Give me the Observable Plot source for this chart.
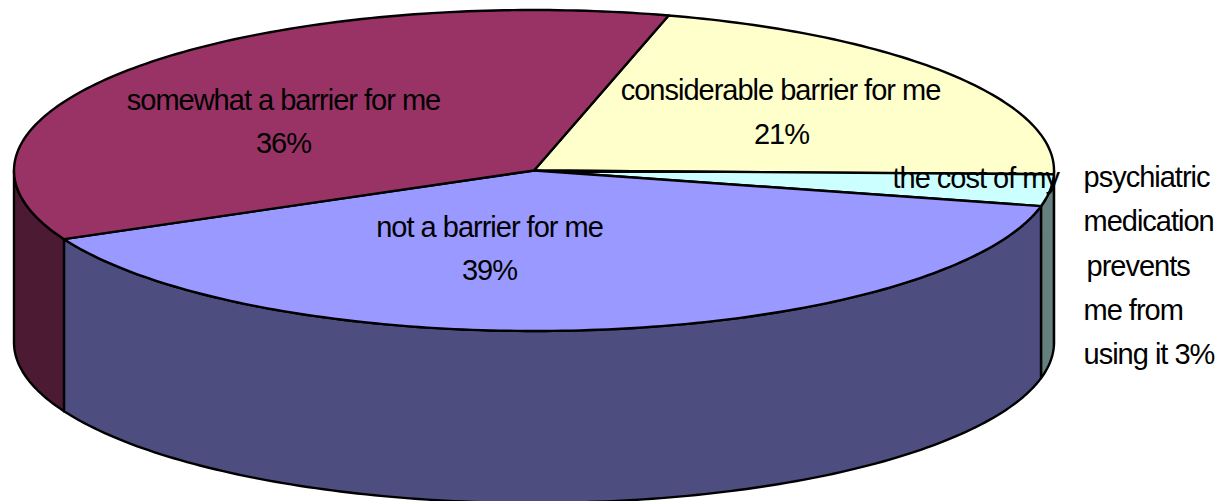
<!DOCTYPE html>
<html>
<head>
<meta charset="utf-8">
<script src="https://cdn.jsdelivr.net/npm/d3@7"></script>
<script src="https://cdn.jsdelivr.net/npm/@observablehq/plot@0.6"></script>
<style>
  html, body { margin: 0; padding: 0; background: #fff; }
  svg { display: block; }
</style>
</head>
<body>
<div id="chart"></div>
<script>
// ---- data ----
const categories = [
  "considerable barrier for me",
  "the cost of my psychiatric medication prevents me from using it",
  "not a barrier for me",
  "somewhat a barrier for me"
];
const shares = [21.2, 3.2, 39.4, 36.2];
const topColors = ["#FFFFCC", "#CCFFFF", "#9999FF", "#993366"];
const sideColors = ["#808066", "#668080", "#4D4D80", "#4D1A33"];

const labelTexts = [
  "considerable barrier for me", "21%",
  "the cost of my", "psychiatric", "medication", "prevents", "me from", "using it 3%",
  "not a barrier for me", "39%",
  "somewhat a barrier for me", "36%"
];

// ---- layout ----
const W = 1215, H = 501;
const cx = 533.5, cy = 170, rx = 520, ry = 160.5, depth = 172;
const startAngle = 75;
const labelX = [780, 781, 892, 1083, 1083, 1086, 1083, 1083, 489, 489, 283, 283];
const labelY = [90, 134, 178, 177, 221, 266, 310, 354, 227, 270, 100, 143];
const labelAnchor = ["middle", "middle", "start", "start", "start", "start", "start", "start", "middle", "middle", "middle", "middle"];

const total = d3.sum(shares);
const rim = (t, dy = 0) => ({
  x: cx + rx * Math.cos(t * Math.PI / 180),
  y: cy - ry * Math.sin(t * Math.PI / 180) + dy
});
const arc = (a, b, dy = 0) => {
  // from angle a down to angle b
  const out = [];
  for (let t = a; t > b; t -= 1) out.push(rim(t, dy));
  out.push(rim(b, dy));
  return out;
};

let running = startAngle;
const slices = categories.map((name, i) => {
  const a0 = running, a1 = running - shares[i] / total * 360;
  running = a1;
  return { name, a0, a1, top: topColors[i], side: sideColors[i] };
});

const topPoints = slices.flatMap(s => {
  const pts = [{ x: cx, y: cy }, ...arc(s.a0, s.a1), { x: cx, y: cy }];
  return pts.map(p => ({ ...p, key: s.name, color: s.top }));
});

const wallPoints = slices.flatMap(s => {
  const hi = Math.min(s.a0, 0), lo = Math.max(s.a1, -180);
  if (hi <= lo) return [];
  const upper = arc(hi, lo);
  const lower = arc(hi, lo, depth).reverse();
  return [...upper, ...lower, upper[0]].map(p => ({ ...p, key: s.name, color: s.side }));
});

const labels = labelTexts.map((text, i) => ({
  text, x: labelX[i], y: labelY[i], anchor: labelAnchor[i]
}));

const lineOpts = {
  x: "x", y: "y", z: "key", fill: "color",
  stroke: "#000", strokeWidth: 2.4, strokeLinejoin: "round", curve: "linear"
};

const plot = Plot.plot({
  width: W, height: H,
  margin: 0,
  style: { background: "#fff", letterSpacing: "-1px" },
  x: { domain: [0, W], range: [0, W], axis: null },
  y: { domain: [0, H], range: [0, H], axis: null },
  color: { type: "identity" },
  marks: [
    Plot.line(wallPoints, lineOpts),
    Plot.line(topPoints, lineOpts),
    ...["start", "middle"].map(anchor => Plot.text(labels.filter(d => d.anchor === anchor), {
      x: "x", y: "y", text: "text",
      textAnchor: anchor,
      fontFamily: "Liberation Sans",
      fontSize: 29,
      fill: "#000"
    }))
  ]
});
document.getElementById("chart").append(plot);
</script>
</body>
</html>
